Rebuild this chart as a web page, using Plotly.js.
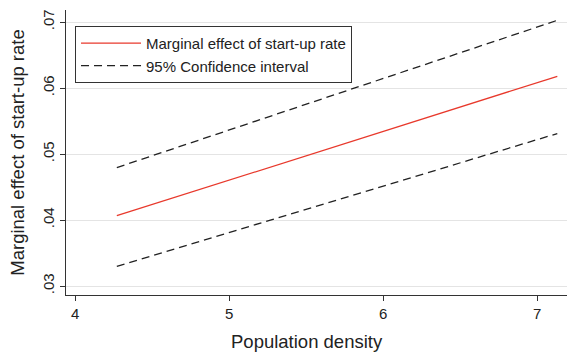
<!DOCTYPE html>
<html><head><meta charset="utf-8">
<script src="https://cdn.plot.ly/plotly-3.0.1.min.js"></script>
<style>html,body{margin:0;padding:0;background:#fff}#chart{width:567px;height:355px}</style>
</head><body><div id="chart"></div>
<script>
const density = [4.27, 7.13];
const marginal = [0.04065, 0.06177];
const ciUpper = [0.04795, 0.07026];
const ciLower = [0.03297, 0.05310];
const xTicks = [4, 5, 6, 7];
const yTicks = [0.03, 0.04, 0.05, 0.06, 0.07];
const yTickText = ['.03', '.04', '.05', '.06', '.07'];

const traces = [
  {x: density, y: marginal, mode: 'lines', name: 'Marginal effect of start-up rate',
   line: {color: '#e8392c', width: 1.3}},
  {x: density, y: ciUpper, mode: 'lines', name: '95% Confidence interval',
   line: {color: '#222', width: 1.3, dash: '8px,5px'}},
  {x: density, y: ciLower, mode: 'lines', name: '95% Confidence interval', showlegend: false,
   line: {color: '#222', width: 1.3, dash: '8px,5px'}}
];
const layout = {
  width: 567, height: 355,
  margin: {l: 66, r: 0, t: 10, b: 60},
  paper_bgcolor: '#fff', plot_bgcolor: '#fff',
  font: {family: 'Liberation Sans, Arial, sans-serif', color: '#222', size: 15},
  showlegend: true,
  legend: {x: 0.018, y: 0.944, xanchor: 'left', yanchor: 'top',
    bordercolor: '#333', borderwidth: 1, bgcolor: '#fff',
    font: {size: 15, color: '#222'}, tracegroupgap: 0, itemwidth: 60},
  xaxis: {range: [3.94, 7.193], tickvals: xTicks, ticktext: xTicks.map(String),
    showgrid: false, zeroline: false, showline: true, linecolor: '#333', linewidth: 1,
    ticks: 'outside', ticklen: 5, tickcolor: '#333', tickfont: {size: 15}},
  yaxis: {range: [0.02864, 0.07182], tickvals: yTicks, ticktext: yTickText, tickangle: -90,
    showgrid: true, gridcolor: '#e4e4e4', gridwidth: 1, zeroline: false,
    showline: true, linecolor: '#333', linewidth: 1,
    ticks: 'outside', ticklen: 5, tickcolor: '#333', tickfont: {size: 15},
    title: {text: 'Marginal effect of start-up rate', font: {size: 18.5}, standoff: 10}},
  annotations: [{text: 'Population density', xref: 'paper', yref: 'paper',
    x: 0.481, y: -0.12, xanchor: 'center', yanchor: 'top', showarrow: false,
    font: {size: 18.5, color: '#222'}}]
};
Plotly.newPlot('chart', traces, layout, {displayModeBar: false, staticPlot: true});
</script></body></html>
